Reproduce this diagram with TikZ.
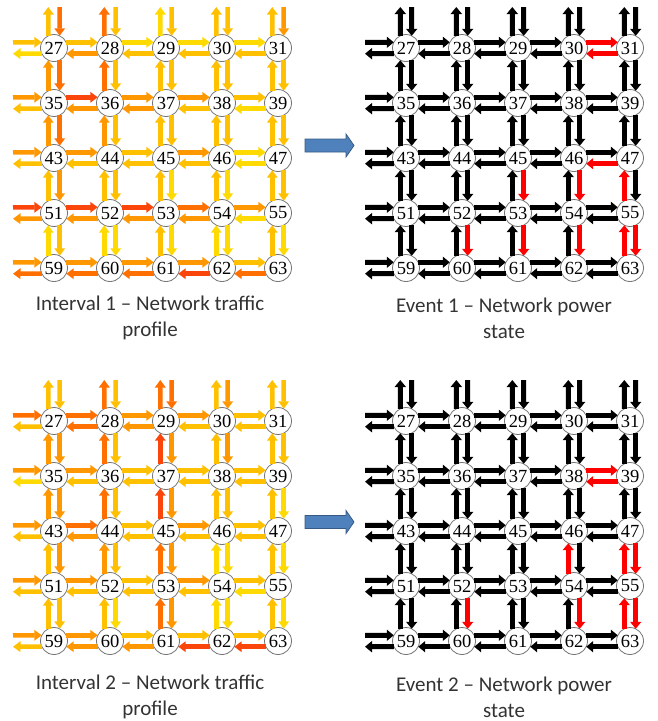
\documentclass[tikz,border=0pt]{standalone}
\usepackage{fontspec}
\setmainfont{Carlito}
\newfontfamily\numfont{Liberation Serif}
\usetikzlibrary{arrows.meta}
\definecolor{tY}{RGB}{255,218,0}
\definecolor{tA}{RGB}{255,192,0}
\definecolor{tO}{RGB}{255,152,0}
\definecolor{tD}{RGB}{255,112,0}
\definecolor{tR}{RGB}{250,70,10}
\colorlet{pk}{black}
\colorlet{pr}{red}
\definecolor{arrblue}{RGB}{79,129,189}
\tikzset{
  nd/.style      = {circle,draw=black!55,line width=0.8pt,fill=white,minimum size=27pt,
                    inner sep=0pt,outer sep=0pt,font=\numfont\fontsize{18.5}{18.5}\selectfont},
  tarr/.style    = {-{Triangle[length=7.5pt,width=10.5pt]},line width=4.5pt},
  parr/.style    = {-{Triangle[length=7pt,width=11pt]},line width=5pt},
  capbox/.style  = {align=center,font=\fontsize{21}{26}\selectfont,text=black!80},
  blueshape/.style = {fill=arrblue,draw=arrblue!70!black,line width=0.8pt}
}
% 5x5 grid: prefix, x of node 27, y of node 27
\newcommand\gridnodes[3]{%
  \foreach \rw [count=\i from 0] in {27,35,43,51,59}{
    \foreach \col in {0,...,4}{
      \pgfmathtruncatemacro\nm{\rw+\col}
      \node[nd] (#1n\nm) at ({#2+56*\col},{-(#3+55*\i)}) {\nm};
    }
    \coordinate (#1w\rw) at ({#2-41},{-(#3+55*\i)});
  }
  \foreach \col in {27,...,31}
    \coordinate (#1t\col) at ({#2+56*(\col-27)},{-(#3-41)});
}
% one row of link pairs: style, prefix, first node, right/left colours
\newcommand\hrow[4]{%
  \foreach \colA/\colB [count=\k from 0] in {#4}{
    \pgfmathtruncatemacro\nb{#3+\k}
    \pgfmathtruncatemacro\na{#3+\k-1}
    \ifnum\k=0
      \draw[#1,\colA] ([yshift=5.7pt]#2w#3) -- (#2n\nb.155);
      \draw[#1,\colB] (#2n\nb.205) -- ([yshift=-5.7pt]#2w#3);
    \else
      \draw[#1,\colA] (#2n\na.25) -- (#2n\nb.155);
      \draw[#1,\colB] (#2n\nb.205) -- (#2n\na.-25);
    \fi
  }}
% one column of link pairs: style, prefix, top node, up/down colours
\newcommand\vcol[4]{%
  \foreach \colA/\colB [count=\k from 0] in {#4}{
    \pgfmathtruncatemacro\nb{#3+8*\k}
    \pgfmathtruncatemacro\na{#3+8*\k-8}
    \ifnum\k=0
      \draw[#1,\colA] (#2n\nb.115) -- ([xshift=-5.7pt]#2t#3);
      \draw[#1,\colB] ([xshift=5.7pt]#2t#3) -- (#2n\nb.65);
    \else
      \draw[#1,\colA] (#2n\nb.115) -- (#2n\na.245);
      \draw[#1,\colB] (#2n\na.-65) -- (#2n\nb.65);
    \fi
  }}
\newcommand\bigarrow[2]{%
  \filldraw[blueshape] (#1,{#2+6.5}) -- ++(41,0) -- ++(0,5) -- ++(8,-11.5)
    -- ++(-8,-11.5) -- ++(0,5) -- ++(-41,0) -- cycle;}

\begin{document}
\begin{tikzpicture}[x=1pt,y=1pt]
  \useasboundingbox (0,0) rectangle (657,-721);

  % interval 1: traffic
  \gridnodes{a}{54}{48}
  \hrow{tarr}{a}{27}{tA/tY,tA/tO,tY/tA,tY/tA,tY/tA}
  \hrow{tarr}{a}{35}{tO/tA,tR/tO,tO/tO,tO/tA,tA/tY}
  \hrow{tarr}{a}{43}{tO/tA,tO/tA,tA/tA,tO/tA,tY/tY}
  \hrow{tarr}{a}{51}{tR/tO,tR/tO,tR/tO,tD/tO,tO/tY}
  \hrow{tarr}{a}{59}{tO/tD,tO/tD,tO/tD,tO/tR,tA/tD}
  \vcol{tarr}{a}{27}{tA/tD,tO/tD,tO/tD,tA/tO,tY/tA}
  \vcol{tarr}{a}{28}{tD/tA,tD/tA,tO/tA,tA/tA,tY/tY}
  \vcol{tarr}{a}{29}{tY/tA,tA/tA,tA/tA,tA/tY,tA/tY}
  \vcol{tarr}{a}{30}{tA/tA,tA/tA,tA/tA,tA/tY,tY/tY}
  \vcol{tarr}{a}{31}{tA/tO,tA/tA,tA/tA,tA/tA,tA/tY}

  % event 1: power state
  \gridnodes{b}{406}{48}
  \hrow{parr}{b}{27}{pk/pk,pk/pk,pk/pk,pk/pk,pr/pr}
  \hrow{parr}{b}{35}{pk/pk,pk/pk,pk/pk,pk/pk,pk/pk}
  \hrow{parr}{b}{43}{pk/pk,pk/pk,pk/pk,pk/pk,pk/pr}
  \hrow{parr}{b}{51}{pk/pk,pk/pk,pk/pk,pk/pk,pk/pk}
  \hrow{parr}{b}{59}{pk/pk,pk/pk,pk/pk,pk/pk,pk/pk}
  \vcol{parr}{b}{27}{pk/pk,pk/pk,pk/pk,pk/pk,pk/pk}
  \vcol{parr}{b}{28}{pk/pk,pk/pk,pk/pk,pk/pk,pk/pr}
  \vcol{parr}{b}{29}{pk/pk,pk/pk,pk/pk,pk/pr,pk/pr}
  \vcol{parr}{b}{30}{pk/pk,pk/pk,pk/pk,pk/pr,pk/pr}
  \vcol{parr}{b}{31}{pk/pk,pk/pk,pk/pk,pr/pk,pr/pr}

  % interval 2: traffic
  \gridnodes{c}{54}{421}
  \hrow{tarr}{c}{27}{tD/tA,tD/tD,tO/tO,tO/tA,tA/tA}
  \hrow{tarr}{c}{35}{tO/tY,tO/tA,tA/tA,tA/tA,tA/tA}
  \hrow{tarr}{c}{43}{tO/tA,tD/tO,tA/tA,tO/tA,tA/tA}
  \hrow{tarr}{c}{51}{tO/tA,tO/tA,tA/tA,tO/tA,tA/tY}
  \hrow{tarr}{c}{59}{tO/tA,tO/tO,tA/tO,tA/tR,tA/tR}
  \vcol{tarr}{c}{27}{tA/tA,tO/tO,tO/tO,tA/tO,tA/tA}
  \vcol{tarr}{c}{28}{tD/tA,tD/tA,tD/tA,tO/tA,tA/tY}
  \vcol{tarr}{c}{29}{tD/tD,tR/tO,tR/tO,tD/tO,tD/tO}
  \vcol{tarr}{c}{30}{tA/tO,tA/tO,tA/tA,tY/tY,tY/tY}
  \vcol{tarr}{c}{31}{tA/tA,tA/tA,tA/tY,tA/tY,tA/tY}

  % event 2: power state
  \gridnodes{d}{406}{421}
  \hrow{parr}{d}{27}{pk/pk,pk/pk,pk/pk,pk/pk,pk/pk}
  \hrow{parr}{d}{35}{pk/pk,pk/pk,pk/pk,pk/pk,pr/pr}
  \hrow{parr}{d}{43}{pk/pk,pk/pk,pk/pk,pk/pk,pk/pk}
  \hrow{parr}{d}{51}{pk/pk,pk/pk,pk/pk,pk/pk,pk/pk}
  \hrow{parr}{d}{59}{pk/pk,pk/pk,pk/pk,pk/pk,pk/pk}
  \vcol{parr}{d}{27}{pk/pk,pk/pk,pk/pk,pk/pk,pk/pk}
  \vcol{parr}{d}{28}{pk/pk,pk/pk,pk/pk,pk/pk,pk/pr}
  \vcol{parr}{d}{29}{pk/pk,pk/pk,pk/pk,pk/pk,pk/pk}
  \vcol{parr}{d}{30}{pk/pk,pk/pk,pk/pk,pr/pk,pk/pr}
  \vcol{parr}{d}{31}{pk/pk,pk/pk,pk/pk,pr/pr,pr/pr}

  \bigarrow{305}{-145.5}
  \bigarrow{305}{-522}

  \node[capbox] (cap1) at (150,-318) {Interval 1 – Network traffic\\profile};
  \node[capbox] (cap2) at (504,-318) {Event 1 – Network power\\state};
  \node[capbox] (cap3) at (150,-697) {Interval 2 – Network traffic\\profile};
  \node[capbox] (cap4) at (504,-697) {Event 2 – Network power\\state};
\end{tikzpicture}
\end{document}
